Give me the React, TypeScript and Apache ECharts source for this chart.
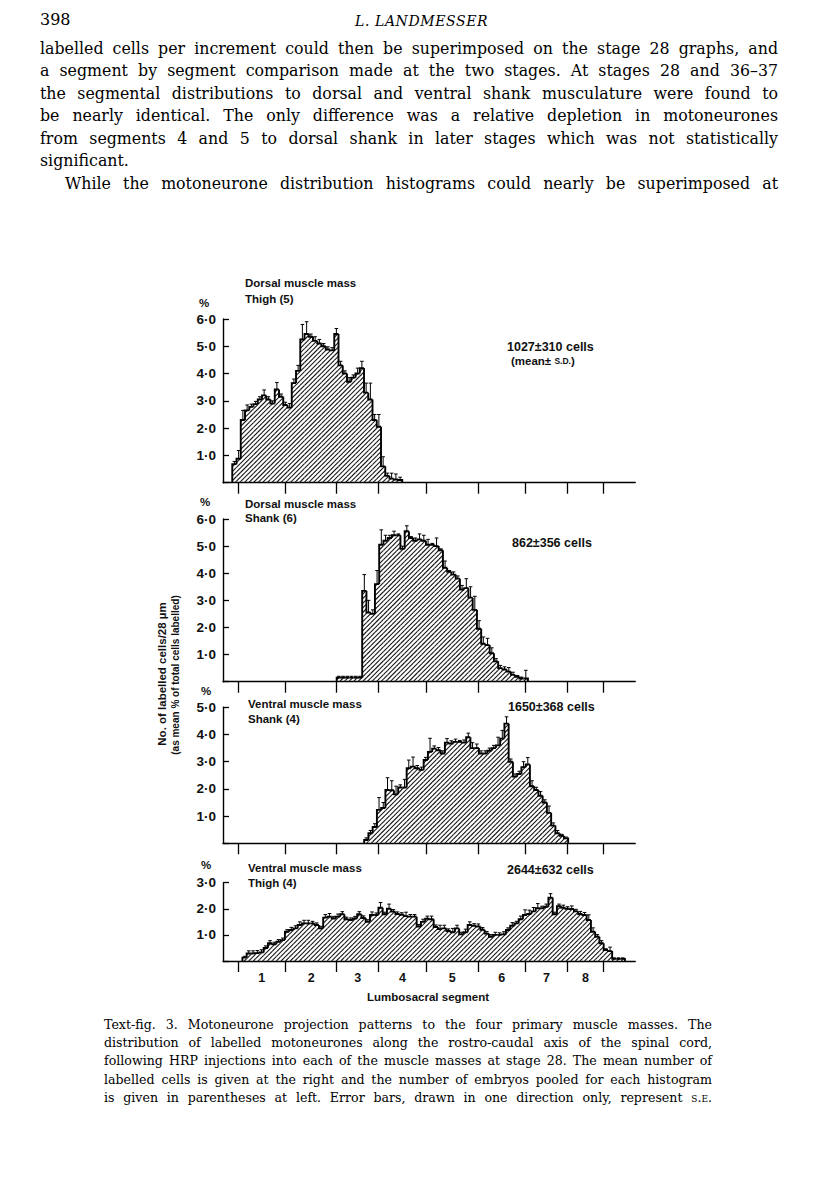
import React, { useEffect, useRef } from 'react';
import * as echarts from 'echarts';

// ---------- data (x positions in micrometres, 28 um bins; y in % of labelled cells) ----------
const BIN_UM = 28;
const AXIS_MAX_UM = 2716;
const segmentNames = ['1', '2', '3', '4', '5', '6', '7', '8'];
const segmentBoundariesUm = [99, 412, 749, 1026, 1339, 1682, 1991, 2270, 2507];

const panelTitles = [
  ['Dorsal muscle mass', 'Thigh (5)'],
  ['Dorsal muscle mass', 'Shank (6)'],
  ['Ventral muscle mass', 'Shank (4)'],
  ['Ventral muscle mass', 'Thigh (4)'],
];
const panelCounts = ['1027\u00b1310 cells', '862\u00b1356 cells', '1650\u00b1368 cells', '2644\u00b1632 cells'];
const panelYMax = [6, 6, 5, 3];
const panelStartUm = [61, 749, 930, 128];

const dorsalThigh = [0.68, 0.88, 2.3, 2.65, 2.78, 2.88, 3.05, 3.2, 3.05, 2.9, 3.42, 3.15, 2.85, 2.75, 3.65, 4.1, 5.25, 5.45, 5.35, 5.2, 5.1, 5.0, 4.88, 4.85, 5.45, 4.3, 4.0, 3.7, 3.85, 4.0, 4.2, 3.3, 3.05, 2.3, 2.05, 0.6, 0.25, 0.15, 0.12, 0.1];
const dorsalThighErr = [0.1, 0.3, 0.35, 0.2, 0.1, 0.1, 0.1, 0.2, 0.1, 0.1, 0.25, 0.1, 0.1, 0.15, 0.15, 0.2, 0.55, 0.45, 0.1, 0.15, 0.15, 0.1, 0.1, 0.1, 0.2, 0.15, 0.1, 0.15, 0.1, 0.2, 0.25, 0.35, 0.6, 0.2, 0.45, 0.35, 0.1, 0.2, 0.2, 0.1];

const dorsalShank = [0.15, 0.15, 0.15, 0.15, 0.15, 0.15, 3.35, 2.55, 2.5, 3.6, 5.05, 5.2, 5.3, 5.4, 5.4, 4.9, 5.55, 5.3, 5.2, 5.25, 5.2, 5.05, 5.05, 5.0, 4.85, 4.2, 4.05, 3.95, 3.8, 3.4, 3.45, 3.1, 2.65, 1.95, 1.4, 1.35, 1.05, 0.75, 0.5, 0.45, 0.37, 0.25, 0.18, 0.12, 0.12];
const dorsalShankErr = [0.05, 0.05, 0.05, 0.05, 0.05, 0.05, 0.6, 0.45, 0.15, 0.5, 0.55, 0.2, 0.1, 0.15, 0.05, 0.1, 0.2, 0.05, 0.1, 0.2, 0.2, 0.2, 0.05, 0.3, 0.05, 0.25, 0.05, 0.1, 0.1, 0.15, 0.35, 0.4, 0.5, 0.3, 0.25, 0.25, 0.2, 0.1, 0.1, 0.1, 0.15, 0.1, 0.05, 0.05, 0.3];

const ventralShank = [0.12, 0.37, 0.6, 1.23, 1.3, 1.96, 1.95, 1.8, 2.05, 2.05, 2.76, 2.82, 2.76, 2.7, 3.06, 3.36, 3.48, 3.42, 3.3, 3.7, 3.67, 3.73, 3.73, 3.7, 3.9, 3.5, 3.5, 3.3, 3.3, 3.4, 3.5, 3.6, 3.85, 4.4, 3.0, 2.45, 2.55, 2.8, 2.9, 2.1, 1.96, 1.75, 1.5, 1.12, 0.65, 0.37, 0.28, 0.18];
const ventralShankErr = [0.08, 0.1, 0.12, 0.45, 0.2, 0.45, 0.35, 0.3, 0.1, 0.3, 0.3, 0.35, 0.1, 0.1, 0.1, 0.5, 0.1, 0.1, 0.1, 0.15, 0.1, 0.1, 0.05, 0.1, 0.15, 0.2, 0.15, 0.1, 0.1, 0.1, 0.1, 0.3, 0.3, 0.25, 0.1, 0.1, 0.1, 0.2, 0.25, 0.2, 0.1, 0.15, 0.1, 0.25, 0.1, 0.1, 0.05, 0.05];

const ventralThigh = [
  0.13, 0.29, 0.29, 0.3, 0.33, 0.5, 0.68, 0.64, 0.74, 0.8,
  1.12, 1.19, 1.25, 1.38, 1.44, 1.44, 1.44, 1.38, 1.25, 1.66,
  1.7, 1.63, 1.7, 1.79, 1.6, 1.57, 1.63, 1.79, 1.65, 1.5,
  1.76, 1.76, 2.04, 1.79, 2.0, 1.89, 1.8, 1.77, 1.72, 1.7,
  1.7, 1.32, 1.5, 1.62, 1.6, 1.3, 1.22, 1.25, 1.15, 1.1,
  1.25, 1.02, 1.1, 1.38, 1.35, 1.32, 1.2, 1.05, 0.93, 1.0,
  1.0, 1.02, 1.19, 1.35, 1.44, 1.6, 1.76, 1.8, 1.9, 2.02,
  2.02, 2.08, 2.43, 1.79, 2.1, 2.04, 2.0, 1.99, 1.9, 1.8,
  1.76, 1.57, 1.12, 0.93, 0.68, 0.42, 0.38, 0.08, 0.08, 0.08,
];
const ventralThighErr = [
  0.05, 0.1, 0.1, 0.1, 0.1, 0.08, 0.1, 0.08, 0.08, 0.08,
  0.08, 0.1, 0.1, 0.12, 0.12, 0.12, 0.08, 0.08, 0.08, 0.12,
  0.12, 0.08, 0.1, 0.1, 0.08, 0.08, 0.08, 0.1, 0.08, 0.08,
  0.12, 0.08, 0.2, 0.08, 0.18, 0.08, 0.08, 0.08, 0.15, 0.08,
  0.08, 0.08, 0.1, 0.1, 0.12, 0.08, 0.15, 0.12, 0.08, 0.15,
  0.12, 0.08, 0.12, 0.12, 0.08, 0.1, 0.08, 0.08, 0.08, 0.1,
  0.08, 0.1, 0.08, 0.12, 0.08, 0.12, 0.2, 0.15, 0.15, 0.18,
  0.08, 0.1, 0.15, 0.08, 0.08, 0.1, 0.08, 0.12, 0.08, 0.1,
  0.1, 0.2, 0.15, 0.08, 0.1, 0.05, 0.15, 0.04, 0.04, 0.04,
];

const panelValues = [dorsalThigh, dorsalShank, ventralShank, ventralThigh];
const panelErrors = [dorsalThighErr, dorsalShankErr, ventralShankErr, ventralThighErr];

// ---------- page text ----------
const bodyLines = [
  'labelled cells per increment could then be superimposed on the stage 28 graphs, and',
  'a segment by segment comparison made at the two stages. At stages 28 and 36\u201337',
  'the segmental distributions to dorsal and ventral shank musculature were found to',
  'be nearly identical. The only difference was a relative depletion in motoneurones',
  'from segments 4 and 5 to dorsal shank in later stages which was not statistically',
];
const captionLines = [
  'Text-fig. 3. Motoneurone projection patterns to the four primary muscle masses. The',
  'distribution of labelled motoneurones along the rostro-caudal axis of the spinal cord,',
  'following HRP injections into each of the muscle masses at stage 28. The mean number of',
  'labelled cells is given at the right and the number of embryos pooled for each histogram',
];

// ---------- hatch shape ----------
const HatchRect = echarts.graphic.extendShape({
  shape: { x: 0, y: 0, width: 0, height: 0, gap: 4.6 },
  buildPath(ctx: any, shape: any) {
    const { x, y, width, height, gap } = shape;
    if (width <= 0 || height <= 0) return;
    const cMin = x + y;
    const cMax = x + width + y + height;
    const start = Math.ceil(cMin / gap) * gap;
    for (let c = start; c <= cMax; c += gap) {
      const xa = Math.max(x, c - (y + height));
      const xb = Math.min(x + width, c - y);
      if (xb > xa) {
        ctx.moveTo(xa, c - xa);
        ctx.lineTo(xb, c - xb);
      }
    }
  },
});
echarts.graphic.registerShape('hatchRect', HatchRect);

const SANS = '"Liberation Sans", Arial, Helvetica, sans-serif';
const SERIF = '"DejaVu Serif", "Liberation Serif", serif';

const GRID_LEFT = 223;
const PX_PER_UM = 4.25 / 28;
const gridBoxes = [
  { top: 319, height: 163.7 },
  { top: 519, height: 162.7 },
  { top: 707.3, height: 136 },
  { top: 882.7, height: 78.3 },
];

function renderItem(params: any, api: any) {
  const x0 = api.value(0);
  const x1 = api.value(1);
  const v = api.value(2);
  const pv = api.value(3);
  const e = api.value(4);
  const last = api.value(5);
  const tl = api.coord([x0, v]);
  const br = api.coord([x1, 0]);
  const prev = api.coord([x0, pv]);
  const errTop = api.coord([x0, v + e]);
  const xc = (tl[0] + br[0]) / 2;
  const pts: number[][] = [[tl[0], prev[1]], [tl[0], tl[1]], [br[0], tl[1]]];
  if (last) pts.push([br[0], br[1]]);
  return {
    type: 'group',
    children: [
      {
        type: 'hatchRect',
        shape: { x: tl[0], y: tl[1], width: br[0] - tl[0], height: br[1] - tl[1], gap: 4.6 },
        style: { stroke: '#1a1a1a', lineWidth: 1.1, fill: 'none' },
      },
      {
        type: 'polyline',
        shape: { points: pts },
        style: { stroke: '#000', lineWidth: 1.9, fill: 'none', lineJoin: 'miter' },
      },
      {
        type: 'line',
        shape: { x1: xc, y1: tl[1], x2: xc, y2: errTop[1] },
        style: { stroke: '#000', lineWidth: 1 },
      },
      {
        type: 'line',
        shape: { x1: xc - 1.8, y1: errTop[1], x2: xc + 1.8, y2: errTop[1] },
        style: { stroke: '#000', lineWidth: 1 },
      },
    ],
  };
}

function buildBins(i: number) {
  const vals = panelValues[i];
  const errs = panelErrors[i];
  const s = panelStartUm[i];
  return vals.map((v, k) => [
    s + k * BIN_UM,
    s + (k + 1) * BIN_UM,
    v,
    k === 0 ? 0 : vals[k - 1],
    errs[k],
    k === vals.length - 1 ? 1 : 0,
  ]);
}

function textEl(x: number, y: number, text: string, size: number, extra: any = {}) {
  return {
    type: 'text',
    x,
    y,
    silent: true,
    style: {
      text,
      font: `bold ${size}px ${SANS}`,
      fill: '#111',
      textVerticalAlign: 'middle',
      verticalAlign: 'middle',
      ...extra,
    },
  };
}

export default function App() {
  const ref = useRef<HTMLDivElement>(null);

  useEffect(() => {
    if (!ref.current) return;
    const chart = echarts.init(ref.current, null, { renderer: 'svg' });
    const segMid = segmentBoundariesUm.slice(0, -1).map((b, k) => (b + segmentBoundariesUm[k + 1]) / 2);
    const axisWidth = AXIS_MAX_UM * PX_PER_UM;

    const grid = gridBoxes.map((g) => ({ left: GRID_LEFT, top: g.top, width: axisWidth, height: g.height }));
    const xAxis = gridBoxes.map((_, i) => ({
      gridIndex: i,
      type: 'value',
      min: 0,
      max: AXIS_MAX_UM,
      axisLine: { show: true, onZero: false, lineStyle: { color: '#000', width: 1.4 } },
      axisTick: {
        show: true,
        inside: false,
        length: 11,
        customValues: segmentBoundariesUm,
        lineStyle: { color: '#000', width: 1.3 },
      },
      axisLabel:
        i === 3
          ? {
              show: true,
              customValues: segMid,
              margin: 10,
              color: '#111',
              fontFamily: SANS,
              fontWeight: 'bold',
              fontSize: 12.5,
              formatter: (val: number) => {
                let best = 0;
                segMid.forEach((m, k) => {
                  if (Math.abs(m - val) < Math.abs(segMid[best] - val)) best = k;
                });
                return segmentNames[best];
              },
            }
          : { show: false },
      splitLine: { show: false },
    }));
    const yAxis = gridBoxes.map((_, i) => ({
      gridIndex: i,
      type: 'value',
      min: 0,
      max: panelYMax[i],
      interval: 1,
      axisLine: { show: true, lineStyle: { color: '#000', width: 1.4 } },
      axisTick: { show: true, inside: true, length: 6, lineStyle: { color: '#000', width: 1.3 } },
      axisLabel: {
        margin: 7,
        color: '#111',
        fontFamily: SANS,
        fontWeight: 'bold',
        fontSize: 13.5,
        formatter: (v: number) => (v === 0 ? '' : v.toFixed(1).replace('.', '\u00b7')),
      },
      splitLine: { show: false },
    }));

    const series = gridBoxes.map((_, i) => ({
      type: 'custom',
      xAxisIndex: i,
      yAxisIndex: i,
      clip: false,
      silent: true,
      encode: { x: [0, 1], y: 2 },
      data: buildBins(i),
      renderItem,
    }));

    const titlePos = [
      [245, 283, 299],
      [245, 504, 518],
      [248, 704, 719],
      [248, 868, 883],
    ];
    const pctPos = [
      [204, 303],
      [205, 502],
      [206, 691],
      [206, 865],
    ];
    const countPos = [
      [507, 347],
      [512, 543],
      [508, 707],
      [507, 870],
    ];
    const elements: any[] = [];
    for (let i = 0; i < 4; i++) {
      elements.push(textEl(titlePos[i][0], titlePos[i][1], panelTitles[i][0], 11.5));
      elements.push(textEl(titlePos[i][0], titlePos[i][2], panelTitles[i][1], 11.5));
      elements.push(textEl(pctPos[i][0], pctPos[i][1], '%', 11.5, { textAlign: 'center', align: 'center' }));
      elements.push(textEl(countPos[i][0], countPos[i][1], panelCounts[i], 12.5));
    }
    elements.push({
      type: 'text',
      x: 511,
      y: 361,
      silent: true,
      style: {
        text: '(mean\u00b1 {sc|S.D.})',
        font: `bold 11.5px ${SANS}`,
        fill: '#111',
        textVerticalAlign: 'middle',
        verticalAlign: 'middle',
        rich: { sc: { font: `bold 8.5px ${SANS}`, fill: '#111' } },
      },
    });
    elements.push(textEl(428, 997, 'Lumbosacral segment', 11.5, { textAlign: 'center', align: 'center' }));
    elements.push({
      type: 'text',
      x: 162,
      y: 674,
      rotation: Math.PI / 2,
      silent: true,
      style: {
        text: 'No. of labelled cells/28 \u00b5m',
        font: `bold 11.5px ${SANS}`,
        fill: '#111',
        textAlign: 'center',
        align: 'center',
        textVerticalAlign: 'middle',
        verticalAlign: 'middle',
      },
    });
    elements.push({
      type: 'text',
      x: 175,
      y: 675,
      rotation: Math.PI / 2,
      silent: true,
      style: {
        text: '(as mean % of total cells labelled)',
        font: `bold 10px ${SANS}`,
        fill: '#111',
        textAlign: 'center',
        align: 'center',
        textVerticalAlign: 'middle',
        verticalAlign: 'middle',
      },
    });

    chart.setOption({
      animation: false,
      backgroundColor: 'transparent',
      grid,
      xAxis,
      yAxis,
      series,
      graphic: { elements },
    });
    return () => chart.dispose();
  }, []);

  const lineStyle = (top: number, left: number, width: number, size: number, lh: number, justify = true): React.CSSProperties => ({
    position: 'absolute',
    top,
    left,
    width,
    fontFamily: SERIF,
    fontSize: size,
    lineHeight: `${lh}px`,
    color: '#000',
    textAlign: justify ? 'justify' : 'left',
    textAlignLast: justify ? 'justify' : 'left',
    whiteSpace: 'normal',
  });

  const bodyTops = [37.5, 60, 82.5, 105, 127.5];
  const captionTops = [1016, 1034.2, 1052.4, 1070.6];

  return (
    <div style={{ position: 'absolute', left: 0, top: 0, width: 816, height: 1191, background: '#fff', overflow: 'hidden' }}>
      <div ref={ref} style={{ position: 'absolute', left: 0, top: 0, width: 816, height: 1191 }} />
      <div style={{ ...lineStyle(9, 40, 60, 16, 22, false) }}>398</div>
      <div style={{ ...lineStyle(10, 355, 220, 14, 22, false), fontStyle: 'italic', letterSpacing: '0.6px' }}>L. LANDMESSER</div>
      {bodyLines.map((t, k) => (
        <div key={k} style={lineStyle(bodyTops[k], 40, 738, 15.8, 22)}>
          {t}
        </div>
      ))}
      <div style={lineStyle(150, 40, 738, 15.8, 22, false)}>significant.</div>
      <div style={lineStyle(173, 65, 713, 15.8, 22)}>
        While the motoneurone distribution histograms could nearly be superimposed at
      </div>
      {captionLines.map((t, k) => (
        <div key={k} style={lineStyle(captionTops[k], 104, 608, 12.6, 18)}>
          {t}
        </div>
      ))}
      <div style={lineStyle(1088.8, 104, 608, 12.6, 18)}>
        is given in parentheses at left. Error bars, drawn in one direction only, represent{' '}
        <span style={{ fontVariant: 'small-caps' }}>s.e.</span>
      </div>
    </div>
  );
}
